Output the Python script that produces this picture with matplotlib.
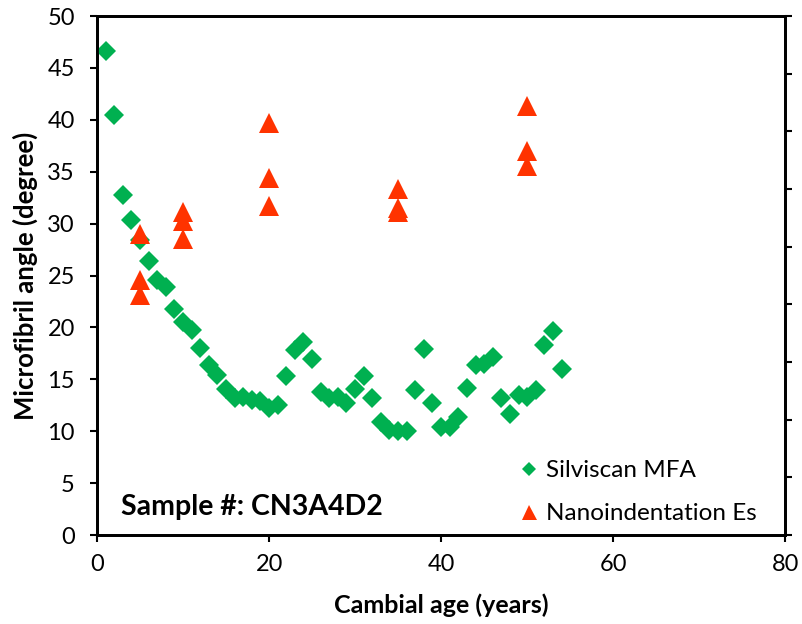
import numpy as np
import matplotlib
matplotlib.use("Agg")
import matplotlib.pyplot as plt

plt.rcParams['font.family'] = ['Lato', 'DejaVu Sans']

# Silviscan MFA by cambial age
mfa_age = list(range(1, 55))
mfa_val = [46.6, 40.5, 32.8, 30.4, 28.4, 26.4, 24.6, 23.9, 21.8, 20.5,
           19.8, 18.0, 16.4, 15.4, 14.1, 13.2, 13.3, 13.0, 12.9, 12.2,
           12.5, 15.3, 17.8, 18.6, 17.0, 13.8, 13.2, 13.3, 12.7, 14.1,
           15.3, 13.2, 10.9, 10.1, 10.0, 10.0, 14.0, 17.9, 12.7, 10.4,
           10.4, 11.4, 14.2, 16.4, 16.5, 17.2, 13.2, 11.7, 13.5, 13.3,
           14.0, 18.3, 19.7, 16.0]

# Nanoindentation Es points
nano_age = [5, 5, 5, 10, 10, 10, 20, 20, 20, 35, 35, 35, 50, 50, 50]
nano_val = [29.0, 24.6, 23.1, 31.1, 30.3, 28.5, 39.7, 34.4, 31.7,
            33.3, 31.5, 31.1, 41.3, 37.0, 35.6]

green = '#00B050'
red = '#FF3300'

fig = plt.figure(figsize=(8.02, 6.24), dpi=100)
ax = fig.add_axes([0.121, 0.1426, 0.858, 0.8316])

ax.plot(mfa_age, mfa_val, 'D', color=green, ms=10, mew=0, label='Silviscan MFA', zorder=3)
ax.plot(nano_age, nano_val, '^', color=red, ms=15, mew=0, label='Nanoindentation Es', zorder=4)

ax.set_xlim(0, 80)
ax.set_ylim(0, 50)
ax.set_xticks([0, 20, 40, 60, 80])
ax.set_yticks(np.arange(0, 51, 5))
ax.tick_params(direction='out', length=5, width=1.5, labelsize=17)
ax.tick_params(axis='y', pad=11)
ax.tick_params(axis='x', pad=9)
for sp in ax.spines.values():
    sp.set_linewidth(2)

ax.set_xlabel('Cambial age (years)', fontsize=18, fontweight='bold')
ax.set_ylabel('Microfibril angle (degree)', fontsize=18.5, fontweight='bold')
ax.xaxis.set_label_coords(0.5, -0.112)
ax.yaxis.set_label_coords(-0.086, 0.5)

ax.text(2.8, 1.95, 'Sample #: CN3A4D2', fontsize=20.5, fontweight='bold', va='baseline')

# secondary axis, ticks only
ax2 = ax.twinx()
ax2.set_ylim(0, 9)
ax2.set_yticks(range(10))
ax2.set_yticklabels([])
ax2.tick_params(direction='out', length=5, width=1.5)
for sp in ax2.spines.values():
    sp.set_linewidth(2)

leg = ax.legend(loc='lower right', bbox_to_anchor=(0.959, 0.021), frameon=False,
                fontsize=17.5, markerscale=0.72, handletextpad=0.2,
                handlelength=1.0, labelspacing=0.9, borderpad=0, borderaxespad=0)

fig.savefig('out.png', dpi=100)
